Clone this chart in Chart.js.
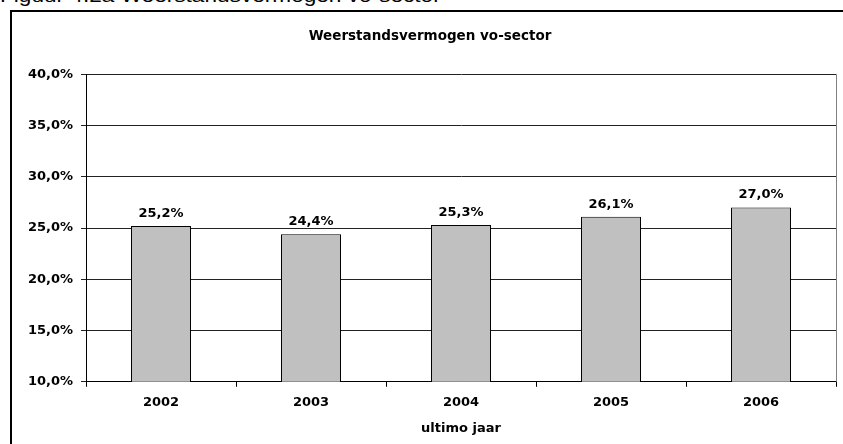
<!DOCTYPE html>
<html>
<head>
<meta charset="utf-8">
<script src="https://cdn.jsdelivr.net/npm/chart.js@4/dist/chart.umd.min.js"></script>
<style>
  body { margin: 0; background: #fff; overflow: hidden; }
  #caption { position: absolute; left: 0; top: -14px; font: 19px "Liberation Sans", Arial, sans-serif; line-height: 19px; white-space: nowrap; transform: scaleX(1.19); transform-origin: 0 0; }
  #box { position: absolute; left: 10px; top: 10px; width: 850px; height: 450px; border: 2px solid #000; }
  #chart { position: absolute; left: 0; top: 0; }
</style>
</head>
<body>
<div id="caption">Figuur 4.2a Weerstandsvermogen vo-sector</div>
<div id="box"></div>
<canvas id="chart" width="843" height="444"></canvas>
<script>
const years = ['2002', '2003', '2004', '2005', '2006'];
const values = [25.2, 24.4, 25.3, 26.1, 27.0];
const yTicks = [10, 15, 20, 25, 30, 35, 40];

const fontFamily = '"DejaVu Sans", "Liberation Sans", Arial, sans-serif';

function pct(v) {
    return v.toFixed(1).replace('.', ',') + '%';
}

// value labels above the bars and the plot frame
const extras = {
    id: 'extras',
    afterDatasetsDraw(chart) {
        const ctx = chart.ctx;
        const area = chart.chartArea;
        ctx.save();
        ctx.strokeStyle = '#808080';
        ctx.lineWidth = 1;
        ctx.beginPath();
        ctx.moveTo(Math.round(area.right) + 0.5, area.top);
        ctx.lineTo(Math.round(area.right) + 0.5, area.bottom);
        ctx.stroke();
        ctx.font = 'bold 13px ' + fontFamily;
        ctx.fillStyle = '#000';
        ctx.textAlign = 'center';
        ctx.textBaseline = 'alphabetic';
        chart.getDatasetMeta(0).data.forEach((bar, i) => {
            ctx.fillText(pct(values[i]), bar.x, bar.y - 9);
        });
        ctx.restore();
    }
};

const ctx = document.getElementById('chart').getContext('2d');
new Chart(ctx, {
    type: 'bar',
    data: {
        labels: years,
        datasets: [{
            data: values,
            backgroundColor: '#c0c0c0',
            borderColor: '#000',
            borderWidth: 1,
            barPercentage: 0.4,
            categoryPercentage: 1
        }]
    },
    options: {
        responsive: false,
        animation: false,
        layout: { padding: { top: 21, right: 7, bottom: 8, left: 24 } },
        plugins: {
            legend: { display: false },
            tooltip: { enabled: false },
            title: {
                display: true,
                text: 'Weerstandsvermogen vo-sector',
                color: '#000',
                font: { family: fontFamily, size: 13.5, weight: 'bold' },
                padding: { top: 7, bottom: 30 }
            }
        },
        scales: {
            x: {
                grid: { display: true, drawOnChartArea: false, offset: true, color: '#000', tickLength: 5 },
                border: { color: '#000', width: 1 },
                ticks: { color: '#000', padding: 8, font: { family: fontFamily, size: 13, weight: 'bold' } },
                title: {
                    display: true,
                    text: 'ultimo jaar',
                    color: '#000',
                    font: { family: fontFamily, size: 13, weight: 'bold' },
                    padding: { top: 2, bottom: 0 }
                }
            },
            y: {
                min: yTicks[0],
                max: yTicks[yTicks.length - 1],
                afterBuildTicks: (axis) => { axis.ticks = yTicks.map(v => ({ value: v })); },
                afterFit: (axis) => { axis.width = 62; },
                grid: { color: '#222', tickLength: 5 },
                border: { color: '#000', width: 1 },
                ticks: {
                    color: '#000',
                    padding: 8,
                    font: { family: fontFamily, size: 13, weight: 'bold' },
                    callback: (v) => pct(v)
                }
            }
        }
    },
    plugins: [extras]
});
</script>
</body>
</html>
